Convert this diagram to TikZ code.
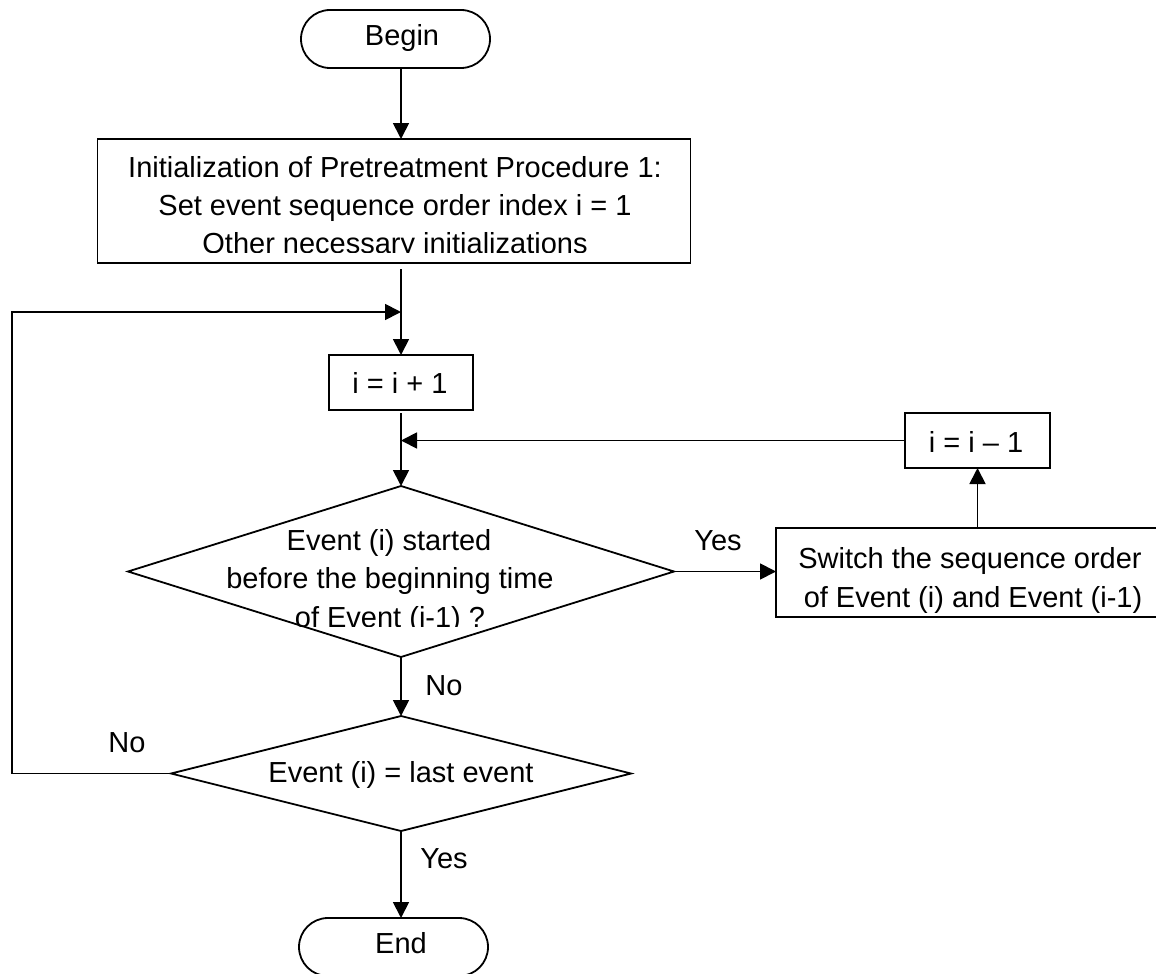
\documentclass[tikz,border=0pt]{standalone}
\usepackage{fontspec}
\setmainfont{Liberation Sans}
\usetikzlibrary{shapes.geometric,arrows.meta}
\begin{document}
\begin{tikzpicture}[x=1pt,y=-1pt,
  every node/.style={outer sep=0pt, inner sep=0pt},
  ln/.style={line width=1.8pt},
  arr/.style={ln,-{Triangle[length=16pt,width=16pt]}},
  term/.style={draw,ln,rounded corners=29pt,minimum width=189pt,minimum height=58pt},
  proc/.style={draw,ln,rectangle},
  dec/.style={draw,ln,diamond},
  txt/.style={anchor=base,font=\fontsize{29}{39}\selectfont},
]
\useasboundingbox (0,0) rectangle (1156,974);
\coordinate (ax) at (401,0);

% terminals
\node[term] (begin) at (395.5,39) {};
\node[txt] (tbegin) at (402,46) {Begin};
\node[term] (end) at (393.5,947) {};
\node[txt] (tend) at (401,953) {End};

% init box
\node[proc,minimum width=593pt,minimum height=124pt] (init) at (394,201) {};
\node[txt] (t1) at (395,177) {Initialization of Pretreatment Procedure 1:};
\node[txt] (t2) at (395,215) {Set event sequence order index i = 1};
\begin{scope}
  \clip (100,225) rectangle (688,252);
  \node[txt] (t3) at (395,253) {Other necessary initializations};
\end{scope}

% i = i + 1
\node[proc,minimum width=144pt,minimum height=55pt] (inc) at (401,382.5) {};
\node[txt] (tinc) at (400,393) {i = i + 1};

% decision 1
\node[dec,minimum width=546pt,minimum height=171pt] (d1) at (401,571.5) {};
\node[txt] (d1a) at (389,550) {Event (i) started};
\node[txt] (d1b) at (390,588) {before the beginning time};
\begin{scope}
  \clip (250,600) rectangle (550,626);
  \node[txt] (d1c) at (390,627) {of Event (i-1) ?};
\end{scope}

% decision 2
\node[dec,minimum width=460pt,minimum height=115pt] (d2) at (401,773.5) {};
\node[txt] (td2) at (401,782) {Event (i) = last event};

% i = i - 1
\node[proc,minimum width=145pt,minimum height=55pt] (decr) at (977.5,440.5) {};
\node[txt] (tdecr) at (976,452) {i = i – 1};

% switch box
\node[proc,minimum width=390pt,minimum height=89pt] (sw) at (971,572.5) {};
\node[txt] (sw1) at (970,568) {Switch the sequence order};
\node[txt] (sw2) at (973,607) {of Event (i) and Event (i-1)};

% labels
\node[txt] (lyes1) at (718,550) {Yes};
\node[txt] (lno1) at (444,695) {No};
\node[txt] (lno2) at (127,752) {No};
\node[txt] (lyes2) at (444,868) {Yes};

% junctions
\coordinate (j0) at (401,312);
\coordinate (c1) at (12,312);
\coordinate (c2) at (12,773.5);

% connectors
\draw[arr] (begin.south -| ax) -- (init.north -| ax);
\draw[arr] ([yshift=-6pt]init.south -| ax) -- (inc.north -| ax);
\draw[arr] (d2.west) -- (c2) -- (c1) -- (j0);
\draw[arr] ([yshift=-3pt]inc.south -| ax) -- (d1.north);
\draw[arr] (decr.west) -- (decr.west -| ax);
\draw[arr] (sw.north -| decr.south) -- (decr.south);
\draw[arr] (d1.east) -- (d1.east -| sw.west);
\draw[arr] (d1.south) -- (d2.north);
\draw[arr] (d2.south) -- (end.north -| ax);
\end{tikzpicture}
\end{document}
